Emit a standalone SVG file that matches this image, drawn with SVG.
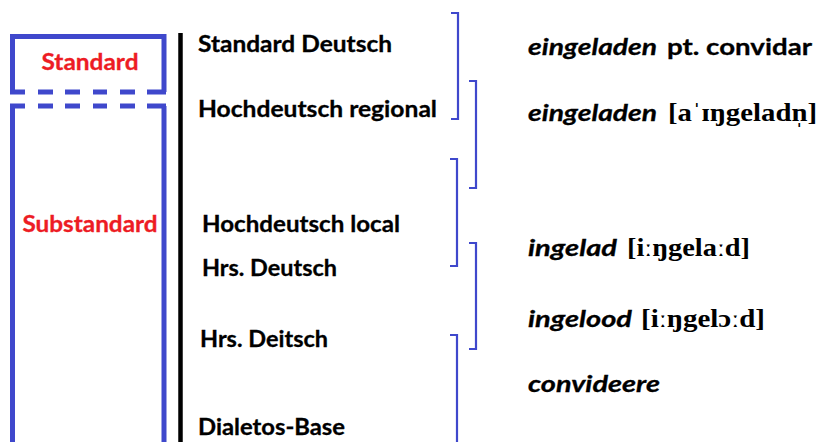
<svg xmlns="http://www.w3.org/2000/svg" width="822" height="442" viewBox="0 0 822 442">
  <style>
    .frame { fill: none; stroke: #3f48cc; stroke-width: 5; }
    .brace { fill: none; stroke: #3f48cc; stroke-width: 2.2; }
    .axis { stroke: #000; stroke-width: 4.5; }
    .tag { font-family: Lato, "Open Sans", sans-serif; font-weight: bold; font-size: 22px; fill: #ed1c24; stroke: #ed1c24; stroke-width: 0.3; }
    .lvl { font-family: Lato, "Open Sans", sans-serif; font-weight: bold; font-size: 22px; fill: #000; stroke: #000; stroke-width: 0.3; }
    .word { font-family: Lato, "Open Sans", sans-serif; font-weight: bold; font-style: italic; font-size: 23px; fill: #000; stroke: #000; stroke-width: 0.3; }
    .gloss { font-family: Lato, "Open Sans", sans-serif; font-weight: bold; font-size: 23px; fill: #000; stroke: #000; stroke-width: 0.3; }
    .ipa { font-family: "Liberation Serif", "DejaVu Serif", serif; font-weight: bold; font-size: 26px; fill: #000; }
  </style>

  <rect width="822" height="442" fill="#fff"/>

  <!-- register boxes -->
  <g id="standard">
    <path class="frame" d="M12.5 92 V36.5 H164 V92"/>
    <path class="frame" d="M10 92 H25 M38 92 H53 M65 92 H80 M93 92 H107 M120 92 H135 M147 92 H166"/>
    <text class="tag" x="90" y="70" text-anchor="middle" textLength="97" lengthAdjust="spacingAndGlyphs">Standard</text>
  </g>
  <g id="substandard">
    <path class="frame" d="M12.5 106 V446 M164 106 V446"/>
    <path class="frame" d="M10 106 H25 M38 106 H53 M65 106 H80 M93 106 H107 M120 106 H135 M147 106 H166"/>
    <text class="tag" x="90" y="232" text-anchor="middle" textLength="135" lengthAdjust="spacingAndGlyphs">Substandard</text>
  </g>

  <!-- vertical scale -->
  <line class="axis" x1="180.5" y1="33" x2="180.5" y2="442"/>

  <!-- levels -->
  <g id="levels">
    <text class="lvl" x="198" y="52" textLength="194" lengthAdjust="spacingAndGlyphs">Standard Deutsch</text>
    <text class="lvl" x="198" y="117" textLength="239" lengthAdjust="spacingAndGlyphs">Hochdeutsch regional</text>
    <text class="lvl" x="202" y="232" textLength="198" lengthAdjust="spacingAndGlyphs">Hochdeutsch local</text>
    <text class="lvl" x="202" y="276" textLength="135" lengthAdjust="spacingAndGlyphs">Hrs. Deutsch</text>
    <text class="lvl" x="200" y="347" textLength="128" lengthAdjust="spacingAndGlyphs">Hrs. Deitsch</text>
    <text class="lvl" x="198" y="435" textLength="147" lengthAdjust="spacingAndGlyphs">Dialetos-Base</text>
  </g>

  <!-- range brackets -->
  <g id="connectors">
    <path class="brace" d="M451 13 H458 V119 H451"/>
    <path class="brace" d="M469 81 H476 V188 H469"/>
    <path class="brace" d="M450 159 H457 V266 H450"/>
    <path class="brace" d="M469 243 H476 V349 H469"/>
    <path class="brace" d="M450 335 H457 V446"/>
  </g>

  <!-- forms -->
  <g id="form-1">
    <text x="528" y="55"><tspan class="word" textLength="129" lengthAdjust="spacingAndGlyphs">eingeladen</tspan><tspan class="gloss" x="667" textLength="145" lengthAdjust="spacingAndGlyphs">pt. convidar</tspan></text>
  </g>
  <g id="form-2">
    <text x="528" y="121"><tspan class="word" textLength="129" lengthAdjust="spacingAndGlyphs">eingeladen</tspan><tspan class="ipa" x="668" textLength="149" lengthAdjust="spacingAndGlyphs">[aˈɪŋgeladn̩]</tspan></text>
  </g>
  <g id="form-3">
    <text x="528" y="256"><tspan class="word" textLength="89" lengthAdjust="spacingAndGlyphs">ingelad</tspan><tspan class="ipa" x="627" textLength="123" lengthAdjust="spacingAndGlyphs">[iːŋgelaːd]</tspan></text>
  </g>
  <g id="form-4">
    <text x="528" y="327"><tspan class="word" textLength="104" lengthAdjust="spacingAndGlyphs">ingelood</tspan><tspan class="ipa" x="641" textLength="124" lengthAdjust="spacingAndGlyphs">[iːŋgelɔːd]</tspan></text>
  </g>
  <g id="form-5">
    <text class="word" x="528" y="392" textLength="132" lengthAdjust="spacingAndGlyphs">convideere</text>
  </g>
</svg>
